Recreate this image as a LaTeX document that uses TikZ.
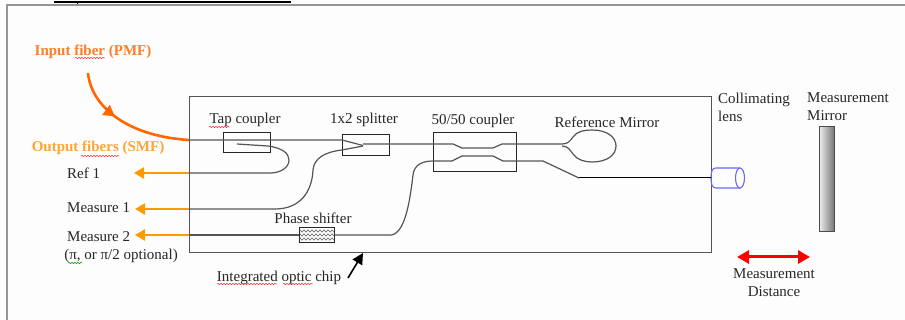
\documentclass[tikz,border=0pt]{standalone}
\usepackage{fontspec}
\setmainfont{Liberation Serif}
\usetikzlibrary{arrows.meta,positioning,decorations.markings,decorations.pathmorphing}
\definecolor{FillPage}{RGB}{253,253,253}
\definecolor{FramePage}{RGB}{150,150,150}
\definecolor{InFiber}{RGB}{255,102,0}
\definecolor{OutFiber}{RGB}{255,153,0}
\definecolor{OutLabel}{RGB}{255,165,50}
\definecolor{LineGuide}{RGB}{85,85,85}
\definecolor{LensBlue}{RGB}{105,105,255}
\begin{document}
\begin{tikzpicture}[
    x=1pt, y=-1pt,
    lbl/.style={font=\fontsize{15}{18}\selectfont, inner sep=0pt, text=black!85},
    lblleft/.style={lbl, anchor=west, align=left},
    lblmid/.style={lbl, align=center},
    box/.style={draw=black!85, line width=1pt, inner sep=0pt, anchor=north west},
    guide/.style={draw=LineGuide, line width=1.2pt},
    zig/.style={black!70, line width=0.5pt, decorate, decoration={zigzag, segment length=4pt, amplitude=1.2pt}},
    squig/.style={red!80, line width=0.5pt, decorate, decoration={snake, segment length=3pt, amplitude=0.7pt}},
    outarr/.style={-{Triangle[length=10pt,width=11pt]}, OutFiber, line width=2.6pt},
    inarr/.style={InFiber, line width=2.6pt},
    redarr/.style={{Triangle[length=12pt,width=13pt]}-{Triangle[length=12pt,width=13pt]}, red, line width=3pt},
    blkarr/.style={-{Triangle[length=11pt,width=11pt]}, black, line width=1.6pt}
]
\useasboundingbox (0,0) rectangle (905,320);
\fill[FillPage] (0,0) rectangle (905,320);

%% ---- PAGE FRAME ----
\draw[FramePage, line width=1.5pt] (7,320) -- (7,5) -- (905,5);
\draw[black, line width=2pt] (54,2) -- (291,2);
\draw[black, line width=1pt] (77,1) -- (77,4);

%% ---- CHIP AND BOXES ----
\node[box, draw=LineGuide, minimum width=522pt, minimum height=156pt] (chip) at (189,96) {};
\node[box, minimum width=47pt, minimum height=20pt] (tap)   at (223,132) {};
\node[box, minimum width=47pt, minimum height=21pt] (split) at (342,134) {};
\node[box, minimum width=83pt, minimum height=39pt] (coup)  at (433,132) {};
\node[box, minimum width=35pt, minimum height=15pt] (shift) at (299,227) {};
\draw[zig] (shift.west |- 0,231) -- (shift.east |- 0,231);
\draw[zig] (shift.west |- 0,235) -- (shift.east |- 0,235);
\draw[zig] (shift.west |- 0,239) -- (shift.east |- 0,239);

%% ---- LENS AND MIRROR ----
\node[inner sep=0pt, minimum width=34pt, minimum height=20pt, anchor=west] (lens) at (711,178) {};
\draw[LensBlue, line width=1.1pt] (740,168) -- (716,168) .. controls (712,168) and (711,172) .. (711,178)
    .. controls (711,184) and (712,188) .. (716,188) -- (740,188);
\draw[LensBlue, line width=1.1pt] (740,178) ellipse [x radius=4.5, y radius=10];
\node[box, draw=black!70, left color=black!8, right color=black!55, minimum width=15pt, minimum height=105pt] (mirror) at (819,126) {};

%% ---- LABELS ----
\node[lblmid, font=\fontsize{15}{18}\selectfont\bfseries, text=InFiber!85!white] (linfib) at (93,52) {Input fiber (PMF)};
\node[lblmid, font=\fontsize{15}{18}\selectfont\bfseries, text=OutLabel] (loutfib) at (98,148) {Output fibers (SMF)};
\node[lblmid] (ltap)   at (245,120) {Tap coupler};
\node[lblmid] (lsplit) at (364,120) {1x2 splitter};
\node[lblmid] (lcoup)  at (473,121) {50/50 coupler};
\node[lblmid] (lrefm)  at (607,122) {Reference Mirror};
\node[lblmid] (lshift) at (313,218) {Phase shifter};
\node[lblleft] (lcoll) at (718,107) {Collimating\\lens};
\node[lblleft] (lmeas) at (807,107) {Measurement\\Mirror};
\node[lblmid]  (ldist) at (774,283) {Measurement\\Distance};
\node[lblleft] (lref)  at (67,173) {Ref 1};
\node[lblleft] (lm1)   at (67,208) {Measure 1};
\node[lblleft] (lm2)   at (67,237) {Measure 2};
\node[lblmid]  (lopt)  at (121,256) {(π, or π/2 optional)};
\node[lblmid]  (lchip) at (279,278) {Integrated optic chip};

%% ---- SPELL MARKS ----
\draw[squig] (75,58) -- (105,58);
\draw[squig] (81,156) -- (119,156);
\draw[squig] (209,127) -- (230,127);
\draw[squig] (217,284) -- (277,284);
\draw[squig] (283,284) -- (313,284);
\draw[squig, green!60!black] (68,263) -- (82,263);

%% ---- CHIP EDGE POINTS ----
\coordinate (portin)  at (chip.west |- 0,140);
\coordinate (portref) at (chip.west |- 0,173);
\coordinate (portm1)  at (chip.west |- 0,209);
\coordinate (portm2)  at (chip.west |- 0,235);
\coordinate (endref)  at (134,173);
\coordinate (endm1)   at (135,209);
\coordinate (endm2)   at (135,235);
\coordinate (startin) at (88,73);
\coordinate (startchip) at (348,278);
\coordinate (tipchip) at (363,253);
\coordinate (distl) at (737,257);
\coordinate (distr) at (810,257);

%% ---- WAVEGUIDES ----
\draw[guide] (portin) -- (split.west |- 0,140) -- (363,145.5);
\draw[guide] (237,144) -- (268,146) .. controls (282,148) and (289,153) .. (289,160)
    .. controls (289,168) and (280,173) .. (270,173) -- (portref);
\draw[guide] (363,146) -- (split.west |- 0,150) .. controls (325,152) and (314,158) .. (313,170)
    .. controls (312,192) and (300,209) .. (275,209) -- (portm1);
\draw[guide] (portm2) -- (shift);
\draw[guide] (shift) -- (388,235) .. controls (405,238) and (410,200) .. (413,175)
    .. controls (414,165) and (422,161) .. (coup.west |- 0,161);
\draw[guide] (363,144) -- (453,144) -- (462,148) -- (493,148) -- (502,144) -- (562,144)
    .. controls (568,144) and (570,141) .. (573,137);
\draw[guide] (562,146) .. controls (568,146) and (570,150) .. (573,154);
\draw[guide] (573,137) .. controls (577,131) and (585,130) .. (592,130) .. controls (607,130) and (616,137) .. (616,146)
    .. controls (616,155) and (607,162) .. (592,162) .. controls (585,162) and (577,160) .. (573,154);
\draw[guide] (coup.west |- 0,161) -- (452,161) -- (462,156) -- (493,156) -- (503,161) -- (543,161) -- (579,178);
\draw[black, line width=1pt] (579,178) -- (lens.west);

%% ---- ARROWS ----
\draw[outarr] (portref) -- (endref);
\draw[outarr] (portm1)  -- (endm1);
\draw[outarr] (portm2)  -- (endm2);
\draw[inarr, postaction={decorate}, decoration={markings, mark=at position 0.4 with {\arrow{Triangle[length=11pt,width=12pt]}}}]
    (startin) .. controls (91,105) and (125,136) .. (portin);
\draw[blkarr] (startchip) -- (tipchip);
\draw[redarr] (distl) -- (distr);

\end{tikzpicture}
\end{document}
